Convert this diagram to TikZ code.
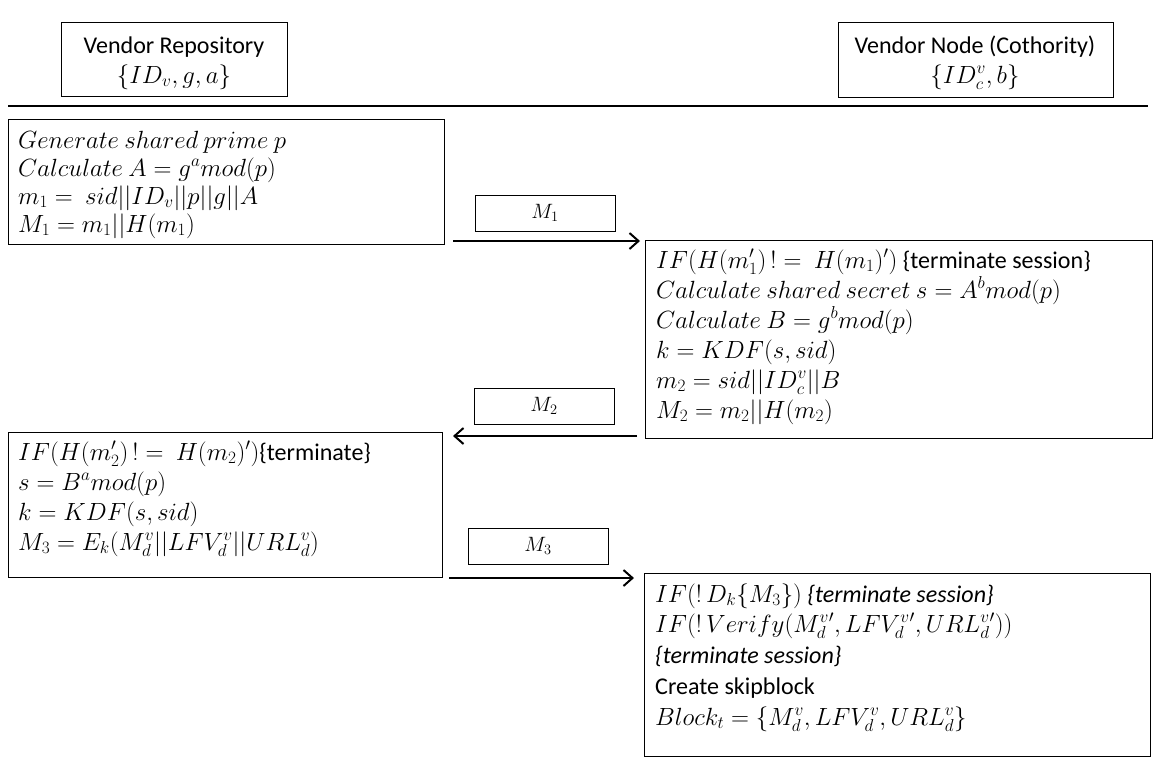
\documentclass[tikz,border=0pt]{standalone}
\usepackage{fontspec}
\setmainfont{Carlito}[Scale=1.045]
\usetikzlibrary{arrows.meta}
\begin{document}
\begin{tikzpicture}[x=1pt,y=-1pt,
  box/.style={draw=black,line width=1.2pt,inner sep=0pt,anchor=north west},
  ln/.style={anchor=base west,inner sep=0pt,font=\fontsize{23}{28}\selectfont},
  hd/.style={anchor=base,inner sep=0pt,font=\fontsize{23}{28}\selectfont},
  lbl/.style={draw=black,line width=1pt,minimum width=140pt,minimum height=36pt,inner sep=0pt,font=\fontsize{21}{26}\selectfont},
  msg/.style={line width=2.4pt,-{Straight Barb[length=9pt,width=16pt,line width=2pt]}}]
\useasboundingbox (0,0) rectangle (1157,763);
% header boxes
\node[box,minimum width=226pt,minimum height=74pt] (vr) at (61,22) {};
\node[hd] (vr1) at (174,53) {Vendor Repository};
\node[hd] (vr2) at (174,83) {$\{ID_v,g,a\}$};
\node[box,minimum width=275pt,minimum height=75pt] (vn) at (838,22) {};
\node[hd] (vn1) at (975,53) {Vendor Node (Cothority)};
\node[hd] (vn2) at (975,83) {$\{ID_c^v,b\}$};
\coordinate (rl) at (8,106);
\coordinate (rr) at (1148,106);
\draw[line width=1.5pt] (rl) -- (rr);
% box 1
\node[box,minimum width=436pt,minimum height=125pt] (b1) at (8,119) {};
\node[ln] (b1a) at (18,148) {$Generate\ shared\ prime\ p$};
\node[ln] (b1b) at (18,176) {$Calculate\ A=g^a mod(p)$};
\node[ln] (b1c) at (18,204) {$m_1=\ sid||ID_v||p||g||A$};
\node[ln] (b1d) at (18,232) {$M_1=m_1||H(m_1)$};
% box 2
\node[box,minimum width=507pt,minimum height=198pt] (b2) at (645,240) {};
\node[ln] (b2a) at (656,268) {$IF(H(m_1')\,!=\ H(m_1)')$ \{terminate session\}};
\node[ln] (b2b) at (656,298) {$Calculate\ shared\ secret\ s=A^b mod(p)$};
\node[ln] (b2c) at (656,328) {$Calculate\ B=g^b mod(p)$};
\node[ln] (b2d) at (656,358) {$k=KDF(s,sid)$};
\node[ln] (b2e) at (656,388) {$m_2=sid||ID_c^v||B$};
\node[ln] (b2f) at (656,418) {$M_2=m_2||H(m_2)$};
% box 3
\node[box,minimum width=434pt,minimum height=145pt] (b3) at (8,432) {};
\node[ln] (b3a) at (18,460) {$IF(H(m_2')\,!=\ H(m_2)')$\{terminate\}};
\node[ln] (b3b) at (18,490) {$s=B^a mod(p)$};
\node[ln] (b3c) at (18,520) {$k=KDF(s,sid)$};
\node[ln] (b3d) at (18,550) {$M_3=E_k(M_d^v||LFV_d^v||URL_d^v)$};
% box 4
\node[box,minimum width=506pt,minimum height=183pt] (b4) at (644,573) {};
\node[ln] (b4a) at (655,602) {$IF(!\,D_k\{M_3\})$ \textit{\{terminate session\}}};
\node[ln] (b4b) at (655,632) {$IF(!\,Verify(M_d^{v}{}',LFV_d^{v}{}',URL_d^{v}{}'))$};
\node[ln] (b4c) at (655,663) {\textit{\{terminate session\}}};
\node[ln] (b4d) at (655,694) {Create skipblock};
\node[ln] (b4e) at (655,725) {$Block_t=\{M_d^v,LFV_d^v,URL_d^v\}$};
% messages
\node[lbl] (l1) at (545,213) {$M_1$};
\node[lbl] (l2) at (544,406) {$M_2$};
\node[lbl] (l3) at (538,546) {$M_3$};
\coordinate (a1s) at (453,241); \coordinate (a1e) at (640,241);
\coordinate (a2s) at (637,436); \coordinate (a2e) at (453,436);
\coordinate (a3s) at (449,578); \coordinate (a3e) at (634,578);
\draw[msg] (a1s) -- (a1e);
\draw[msg] (a2s) -- (a2e);
\draw[msg] (a3s) -- (a3e);
\end{tikzpicture}
\end{document}
